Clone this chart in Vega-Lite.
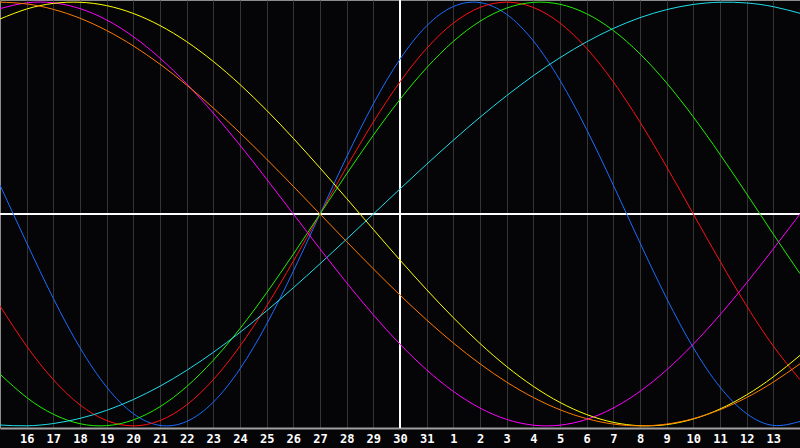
{
  "$schema": "https://vega.github.io/schema/vega-lite/v6.json",
  "width": 800,
  "height": 428,
  "autosize": {"type": "none"},
  "padding": {"left": 0, "top": 0, "right": 0, "bottom": 20},
  "background": "#050508",
  "config": {
    "view": {"stroke": "#8c8c8c", "strokeWidth": 1},
    "axisX": {
      "title": null,
      "grid": true, "gridColor": "#353535", "gridWidth": 1,
      "ticks": false,
      "domain": true, "domainColor": "#a0a0a0", "domainWidth": 2,
      "labelColor": "#ffffff", "labelFont": "DejaVu Sans Mono", "labelFontWeight": "bold", "labelFontSize": 12,
      "labelPadding": 5, "labelFlush": false, "labelOverlap": false
    }
  },
  "data": {"values": [
    {"d": 0, "Physical": 0.1362, "Emotional": -0.4339, "Intellectual": -0.7557, "Intuitive": 0.9694, "Aesthetic": 0.9203, "Awareness": 1, "Spiritual": -0.9960},
    {"d": 1, "Physical": -0.1362, "Emotional": -0.6235, "Intellectual": -0.8660, "Intuitive": 0.9966, "Aesthetic": 0.9675, "Awareness": 0.9914, "Spiritual": -0.9996},
    {"d": 2, "Physical": -0.3984, "Emotional": -0.7818, "Intellectual": -0.9450, "Intuitive": 0.9966, "Aesthetic": 0.9940, "Awareness": 0.9659, "Spiritual": -0.9890},
    {"d": 3, "Physical": -0.6311, "Emotional": -0.9010, "Intellectual": -0.9898, "Intuitive": 0.9694, "Aesthetic": 0.9993, "Awareness": 0.9239, "Spiritual": -0.9646},
    {"d": 4, "Physical": -0.8170, "Emotional": -0.9749, "Intellectual": -0.9989, "Intuitive": 0.9158, "Aesthetic": 0.9834, "Awareness": 0.8660, "Spiritual": -0.9267},
    {"d": 5, "Physical": -0.9423, "Emotional": -1, "Intellectual": -0.9718, "Intuitive": 0.8372, "Aesthetic": 0.9465, "Awareness": 0.7934, "Spiritual": -0.8758},
    {"d": 6, "Physical": -0.9977, "Emotional": -0.9749, "Intellectual": -0.9096, "Intuitive": 0.7357, "Aesthetic": 0.8894, "Awareness": 0.7071, "Spiritual": -0.8126},
    {"d": 7, "Physical": -0.9791, "Emotional": -0.9010, "Intellectual": -0.8146, "Intuitive": 0.6142, "Aesthetic": 0.8134, "Awareness": 0.6088, "Spiritual": -0.7379},
    {"d": 8, "Physical": -0.8879, "Emotional": -0.7818, "Intellectual": -0.6901, "Intuitive": 0.4759, "Aesthetic": 0.7200, "Awareness": 0.5, "Spiritual": -0.6529},
    {"d": 9, "Physical": -0.7308, "Emotional": -0.6235, "Intellectual": -0.5406, "Intuitive": 0.3247, "Aesthetic": 0.6111, "Awareness": 0.3827, "Spiritual": -0.5586},
    {"d": 10, "Physical": -0.5196, "Emotional": -0.4339, "Intellectual": -0.3717, "Intuitive": 0.1646, "Aesthetic": 0.4894, "Awareness": 0.2588, "Spiritual": -0.4566},
    {"d": 11, "Physical": -0.2698, "Emotional": -0.2225, "Intellectual": -0.1893, "Intuitive": 0, "Aesthetic": 0.3572, "Awareness": 0.1305, "Spiritual": -0.3482},
    {"d": 12, "Physical": 0, "Emotional": 0, "Intellectual": 0, "Intuitive": -0.1646, "Aesthetic": 0.2174, "Awareness": 0, "Spiritual": -0.2349},
    {"d": 13, "Physical": 0.2698, "Emotional": 0.2225, "Intellectual": 0.1893, "Intuitive": -0.3247, "Aesthetic": 0.0730, "Awareness": -0.1305, "Spiritual": -0.1183},
    {"d": 14, "Physical": 0.5196, "Emotional": 0.4339, "Intellectual": 0.3717, "Intuitive": -0.4759, "Aesthetic": -0.0730, "Awareness": -0.2588, "Spiritual": 0},
    {"d": 15, "Physical": 0.7308, "Emotional": 0.6235, "Intellectual": 0.5406, "Intuitive": -0.6142, "Aesthetic": -0.2174, "Awareness": -0.3827, "Spiritual": 0.1183},
    {"d": 16, "Physical": 0.8879, "Emotional": 0.7818, "Intellectual": 0.6901, "Intuitive": -0.7357, "Aesthetic": -0.3572, "Awareness": -0.5, "Spiritual": 0.2349},
    {"d": 17, "Physical": 0.9791, "Emotional": 0.9010, "Intellectual": 0.8146, "Intuitive": -0.8372, "Aesthetic": -0.4894, "Awareness": -0.6088, "Spiritual": 0.3482},
    {"d": 18, "Physical": 0.9977, "Emotional": 0.9749, "Intellectual": 0.9096, "Intuitive": -0.9158, "Aesthetic": -0.6111, "Awareness": -0.7071, "Spiritual": 0.4566},
    {"d": 19, "Physical": 0.9423, "Emotional": 1, "Intellectual": 0.9718, "Intuitive": -0.9694, "Aesthetic": -0.7200, "Awareness": -0.7934, "Spiritual": 0.5586},
    {"d": 20, "Physical": 0.8170, "Emotional": 0.9749, "Intellectual": 0.9989, "Intuitive": -0.9966, "Aesthetic": -0.8134, "Awareness": -0.8660, "Spiritual": 0.6529},
    {"d": 21, "Physical": 0.6311, "Emotional": 0.9010, "Intellectual": 0.9898, "Intuitive": -0.9966, "Aesthetic": -0.8894, "Awareness": -0.9239, "Spiritual": 0.7379},
    {"d": 22, "Physical": 0.3984, "Emotional": 0.7818, "Intellectual": 0.9450, "Intuitive": -0.9694, "Aesthetic": -0.9465, "Awareness": -0.9659, "Spiritual": 0.8126},
    {"d": 23, "Physical": 0.1362, "Emotional": 0.6235, "Intellectual": 0.8660, "Intuitive": -0.9158, "Aesthetic": -0.9834, "Awareness": -0.9914, "Spiritual": 0.8758},
    {"d": 24, "Physical": -0.1362, "Emotional": 0.4339, "Intellectual": 0.7557, "Intuitive": -0.8372, "Aesthetic": -0.9993, "Awareness": -1, "Spiritual": 0.9267},
    {"d": 25, "Physical": -0.3984, "Emotional": 0.2225, "Intellectual": 0.6182, "Intuitive": -0.7357, "Aesthetic": -0.9940, "Awareness": -0.9914, "Spiritual": 0.9646},
    {"d": 26, "Physical": -0.6311, "Emotional": 0, "Intellectual": 0.4582, "Intuitive": -0.6142, "Aesthetic": -0.9675, "Awareness": -0.9659, "Spiritual": 0.9890},
    {"d": 27, "Physical": -0.8170, "Emotional": -0.2225, "Intellectual": 0.2817, "Intuitive": -0.4759, "Aesthetic": -0.9203, "Awareness": -0.9239, "Spiritual": 0.9996},
    {"d": 28, "Physical": -0.9423, "Emotional": -0.4339, "Intellectual": 0.0951, "Intuitive": -0.3247, "Aesthetic": -0.8536, "Awareness": -0.8660, "Spiritual": 0.9960},
    {"d": 29, "Physical": -0.9977, "Emotional": -0.6235, "Intellectual": -0.0951, "Intuitive": -0.1646, "Aesthetic": -0.7684, "Awareness": -0.7934, "Spiritual": 0.9785},
    {"d": 30, "Physical": -0.9791, "Emotional": -0.7818, "Intellectual": -0.2817, "Intuitive": 0, "Aesthetic": -0.6672, "Awareness": -0.7071, "Spiritual": 0.9473}
  ]},
  "layer": [
    {
      "mark": {"type": "rule", "color": "#ffffff", "strokeWidth": 1},
      "encoding": {"y": {"datum": 0, "type": "quantitative", "scale": {"domain": [-1.01, 1.01], "nice": false, "zero": false}, "axis": null}}
    },
    {
      "mark": {"type": "rule", "color": "#ffffff", "strokeWidth": 1},
      "encoding": {"x": {"datum": 15, "type": "quantitative",
        "scale": {"domain": [0, 30], "nice": false, "zero": false},
        "axis": {
          "values": [1,2,3,4,5,6,7,8,9,10,11,12,13,14,15,16,17,18,19,20,21,22,23,24,25,26,27,28,29],
          "labelExpr": "datum.value <= 16 ? datum.value + 15 : datum.value - 16",
          "labelOverlap": false
        }}}
    },
    {
      "transform": [{"fold": ["Physical", "Emotional", "Intellectual", "Spiritual", "Intuitive", "Aesthetic", "Awareness"], "as": ["cycle", "value"]}],
      "mark": {"type": "line", "strokeWidth": 1, "interpolate": "natural"},
      "encoding": {
        "x": {
          "field": "d", "type": "quantitative",
          "scale": {"domain": [0, 30], "nice": false, "zero": false},
          "axis": {
            "values": [1,2,3,4,5,6,7,8,9,10,11,12,13,14,15,16,17,18,19,20,21,22,23,24,25,26,27,28,29],
            "labelExpr": "datum.value <= 16 ? datum.value + 15 : datum.value - 16",
            "labelOverlap": false
          }
        },
        "y": {"field": "value", "type": "quantitative", "scale": {"domain": [-1.01, 1.01], "nice": false, "zero": false}, "axis": null},
        "color": {
          "field": "cycle", "type": "nominal", "legend": null,
          "scale": {
            "domain": ["Physical", "Emotional", "Intellectual", "Intuitive", "Aesthetic", "Awareness", "Spiritual"],
            "range": ["#1a6cff", "#ff1010", "#20ee00", "#ff00ff", "#ffff00", "#ff7a00", "#20dde8"]
          }
        }
      }
    }
  ]
}
